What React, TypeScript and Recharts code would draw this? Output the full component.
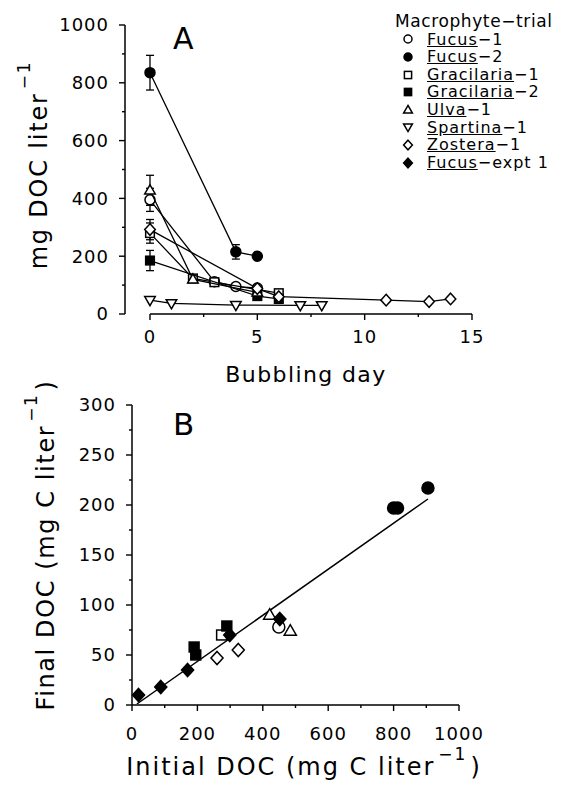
import React from 'react';
import { ScatterChart, Scatter, XAxis, YAxis, ErrorBar, ReferenceLine, Legend } from 'recharts';

const FONT = '"DejaVu Sans", Verdana, sans-serif';
const INK = '#000';

// Panel A: mg DOC per liter during bubbling (err = +/- bar)
const fucus1A = [{ day: 0, doc: 395, err: 40 }, { day: 3, doc: 112 }, { day: 4, doc: 95 }, { day: 5, doc: 90 }];
const fucus2A = [{ day: 0, doc: 835, err: 60 }, { day: 4, doc: 215, err: 25 }, { day: 5, doc: 200 }];
const gracilaria1A = [{ day: 0, doc: 280, err: 35 }, { day: 2, doc: 123 }, { day: 3, doc: 110 }, { day: 6, doc: 72 }];
const gracilaria2A = [{ day: 0, doc: 185, err: 35 }, { day: 5, doc: 62 }, { day: 6, doc: 52 }];
const ulva1A = [{ day: 0, doc: 428, err: 52 }, { day: 2, doc: 120 }, { day: 5, doc: 75 }];
const spartina1A = [{ day: 0, doc: 48 }, { day: 1, doc: 37 }, { day: 4, doc: 31 }, { day: 7, doc: 30 }, { day: 8, doc: 30 }];
const zostera1A = [{ day: 0, doc: 292, err: 35 }, { day: 5, doc: 88 }, { day: 6, doc: 60 }, { day: 11, doc: 48 }, { day: 13, doc: 43 }, { day: 14, doc: 52 }];

// Panel B: final vs initial DOC (mg C per liter)
const fucus1B = [{ init: 449, fin: 78 }];
const fucus2B = [{ init: 800, fin: 197 }, { init: 812, fin: 197 }, { init: 905, fin: 217 }];
const gracilaria1B = [{ init: 274, fin: 70 }];
const gracilaria2B = [{ init: 190, fin: 58 }, { init: 195, fin: 50 }, { init: 290, fin: 79 }];
const ulva1B = [{ init: 421, fin: 90 }, { init: 484, fin: 74 }];
const zostera1B = [{ init: 260, fin: 47 }, { init: 325, fin: 55 }];
const fucusExptB = [{ init: 20, fin: 10 }, { init: 88, fin: 18 }, { init: 170, fin: 35 }, { init: 299, fin: 70 }, { init: 452, fin: 86 }];
// regression line, read at both ends
const fitInit = [15, 905];
const fitFin = [1, 206];

// ticks
const dayMajor = [0, 5, 10, 15];
const dayAll = [0, 2.5, 5, 7.5, 10, 12.5, 15];
const docMajor = [0, 200, 400, 600, 800, 1000];
const docAll = [0, 100, 200, 300, 400, 500, 600, 700, 800, 900, 1000];
const initMajor = [0, 200, 400, 600, 800, 1000];
const initAll = [0, 100, 200, 300, 400, 500, 600, 700, 800, 900, 1000];
const finMajor = [0, 50, 100, 150, 200, 250, 300];
const finAll = [0, 25, 50, 75, 100, 125, 150, 175, 200, 225, 250, 275, 300];

// legend
const genus = ['Fucus', 'Fucus', 'Gracilaria', 'Gracilaria', 'Ulva', 'Spartina', 'Zostera', 'Fucus'];
const trial = ['\u22121', '\u22122', '\u22121', '\u22122', '\u22121', '\u22121', '\u22121', '\u2212expt 1'];

const markerStyle = [
  { kind: 'circle', filled: false },
  { kind: 'circle', filled: true },
  { kind: 'square', filled: false },
  { kind: 'square', filled: true },
  { kind: 'up', filled: false },
  { kind: 'down', filled: false },
  { kind: 'diamond', filled: false },
  { kind: 'diamond', filled: true },
];

const seriesA = [fucus1A, fucus2A, gracilaria1A, gracilaria2A, ulva1A, spartina1A, zostera1A];
const seriesB = [fucus1B, fucus2B, gracilaria1B, gracilaria2B, ulva1B, [], zostera1B, fucusExptB];

const Marker = ({ cx, cy, kind, filled, s }: any) => {
  const common = { fill: filled ? INK : '#fff', stroke: INK, strokeWidth: 1.5 };
  switch (kind) {
    case 'circle':
      return <circle cx={cx} cy={cy} r={s} {...common} />;
    case 'square':
      return <rect x={cx - s * 0.9} y={cy - s * 0.9} width={s * 1.8} height={s * 1.8} {...common} />;
    case 'up':
      return <polygon points={`${cx},${cy - s * 1.15} ${cx + s * 1.1},${cy + s * 0.75} ${cx - s * 1.1},${cy + s * 0.75}`} {...common} />;
    case 'down':
      return <polygon points={`${cx},${cy + s * 1.15} ${cx + s * 1.1},${cy - s * 0.75} ${cx - s * 1.1},${cy - s * 0.75}`} {...common} />;
    default:
      return <polygon points={`${cx},${cy - s * 1.2} ${cx + s * 1.1},${cy} ${cx},${cy + s * 1.2} ${cx - s * 1.1},${cy}`} {...common} />;
  }
};

// ticks with short minor marks; labels only on majors
const Tick = (props: any) => {
  const { x, y, payload, side, axisPos, majors, labelGap } = props;
  const v = payload.value;
  const major = majors.includes(v);
  const len = major ? 6 : 3;
  const txt = { fontFamily: FONT, fontSize: 18, letterSpacing: 1, fill: INK };
  if (side === 'left') {
    return (
      <g>
        <line x1={axisPos - len} x2={axisPos} y1={y} y2={y} stroke={INK} strokeWidth={1.4} />
        {major && (
          <text x={axisPos - labelGap} y={y} dy="0.36em" textAnchor="end" {...txt}>
            {v}
          </text>
        )}
      </g>
    );
  }
  return (
    <g>
      <line x1={x} x2={x} y1={axisPos} y2={axisPos + len} stroke={INK} strokeWidth={1.4} />
      {major && (
        <text x={x} y={axisPos + labelGap} textAnchor="middle" {...txt}>
          {v}
        </text>
      )}
    </g>
  );
};

const XTitle = ({ cx, by, main, tail, sup, size, spacing }: any) => (
  <text x={cx} y={by} textAnchor="middle" fontFamily={FONT} fontSize={size} letterSpacing={spacing} fill={INK}>
    {main}
    {sup && (
      <tspan dx={3} dy={-15} fontSize={17}>
        {sup}
      </tspan>
    )}
    {tail && (
      <tspan dx={3} dy={15}>
        {tail}
      </tspan>
    )}
  </text>
);

const YTitle = ({ bx, cy, main, tail, sup, size, spacing }: any) => (
  <text
    transform={`translate(${bx},${cy}) rotate(-90)`}
    textAnchor="middle"
    fontFamily={FONT}
    fontSize={size}
    letterSpacing={spacing}
    fill={INK}
  >
    {main}
    <tspan dx={3} dy={-17} fontSize={17}>
      {sup}
    </tspan>
    {tail && (
      <tspan dx={3} dy={17}>
        {tail}
      </tspan>
    )}
  </text>
);

const LegendBox = () => (
  <div style={{ fontFamily: FONT, color: INK, textAlign: 'left', lineHeight: '17.6px' }}>
    <div style={{ fontSize: 17, letterSpacing: 0.6, height: 17.6 }}>Macrophyte{'\u2212'}trial</div>
    {genus.map((g, i) => (
      <div key={i} style={{ display: 'flex', alignItems: 'center', height: 17.6, fontSize: 16, letterSpacing: 1 }}>
        <svg width={14} height={14} style={{ marginLeft: 6, marginRight: 12 }}>
          <Marker cx={7} cy={7} s={4} kind={markerStyle[i].kind} filled={markerStyle[i].filled} />
        </svg>
        <span>
          <u>{g}</u>
          {trial[i]}
        </span>
      </div>
    ))}
  </div>
);

const App = () => {
  return (
    <div style={{ position: 'absolute', left: 0, top: 0, width: 563, height: 785, background: '#fff' }}>
      <div style={{ position: 'absolute', left: 0, top: 0 }}>
        <ScatterChart width={563} height={395} margin={{ top: 25, right: 91, bottom: 6, left: 65 }}>
          <XAxis
            type="number"
            dataKey="day"
            domain={[-1.164, 15]}
            ticks={dayAll}
            interval={0}
            allowDataOverflow
            axisLine={false}
            tickLine={false}
            height={75}
            tick={<Tick side="bottom" axisPos={314} majors={dayMajor} labelGap={29} />}
            label={<XTitle cx={306} by={382} main="Bubbling day" size={22} spacing={1.4} />}
          />
          <YAxis
            type="number"
            dataKey="doc"
            domain={[0, 1000]}
            ticks={docAll}
            interval={0}
            width={60}
            axisLine={{ stroke: INK, strokeWidth: 1.5 }}
            tickLine={false}
            tick={<Tick side="left" axisPos={125} majors={docMajor} labelGap={16} />}
            label={<YTitle bx={47} cy={165} main="mg DOC liter" sup={'\u22121'} size={24} spacing={1.8} />}
          />
          <ReferenceLine
            segment={[
              { x: dayMajor[0], y: 0 },
              { x: dayMajor[dayMajor.length - 1], y: 0 },
            ]}
            stroke={INK}
            strokeWidth={1.5}
          />
          {seriesA.map((data, i) => (
            <Scatter
              key={i}
              name={genus[i] + trial[i]}
              data={data}
              line={{ stroke: INK, strokeWidth: 1.3 }}
              isAnimationActive={false}
              shape={(p: any) => (
                <Marker cx={p.cx} cy={p.cy} s={markerStyle[i].kind === 'circle' ? 5 : 4.8} kind={markerStyle[i].kind} filled={markerStyle[i].filled} />
              )}
            >
              <ErrorBar dataKey="err" direction="y" width={4} stroke={INK} strokeWidth={1.3} />
            </Scatter>
          ))}
          <Legend
            layout="vertical"
            align="center"
            verticalAlign="middle"
            wrapperStyle={{ left: 395, top: 13, width: 168 }}
            content={() => <LegendBox />}
          />
        </ScatterChart>
      </div>

      <div style={{ position: 'absolute', left: 0, top: 360 }}>
        <ScatterChart width={563} height={425} margin={{ top: 45, right: 104, bottom: 10, left: 60 }}>
          <XAxis
            type="number"
            dataKey="init"
            domain={[0, 1000]}
            ticks={initAll}
            interval={0}
            height={70}
            axisLine={{ stroke: INK, strokeWidth: 1.5 }}
            tickLine={false}
            tick={<Tick side="bottom" axisPos={345} majors={initMajor} labelGap={35} />}
            label={<XTitle cx={304} by={415} main="Initial DOC (mg C liter" sup={'\u22121'} tail=")" size={24} spacing={2} />}
          />
          <YAxis
            type="number"
            dataKey="fin"
            domain={[0, 300]}
            ticks={finAll}
            interval={0}
            width={72}
            axisLine={{ stroke: INK, strokeWidth: 1.5 }}
            tickLine={false}
            tick={<Tick side="left" axisPos={132} majors={finMajor} labelGap={16} />}
            label={<YTitle bx={54} cy={185} main="Final DOC (mg C liter" sup={'\u22121'} tail=")" size={24} spacing={1.6} />}
          />
          <ReferenceLine
            segment={[
              { x: fitInit[0], y: fitFin[0] },
              { x: fitInit[1], y: fitFin[1] },
            ]}
            stroke={INK}
            strokeWidth={1.5}
          />
          {seriesB.map((data, i) => (
            <Scatter
              key={i}
              name={genus[i] + trial[i]}
              data={data}
              isAnimationActive={false}
              shape={(p: any) => (
                <Marker cx={p.cx} cy={p.cy} s={markerStyle[i].kind === 'circle' ? 6 : 5.5} kind={markerStyle[i].kind} filled={markerStyle[i].filled} />
              )}
            />
          ))}
        </ScatterChart>
      </div>

      <svg width={563} height={785} style={{ position: 'absolute', left: 0, top: 0, pointerEvents: 'none' }}>
        <text x={173} y={49} fontFamily={FONT} fontSize={30} fill={INK}>
          A
        </text>
        <text x={173} y={435} fontFamily={FONT} fontSize={31} fill={INK}>
          B
        </text>
      </svg>
    </div>
  );
};

export default App;
